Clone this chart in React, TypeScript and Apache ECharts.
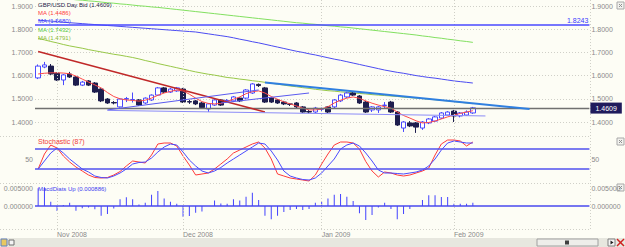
import React, { useEffect, useRef } from "react";
import * as echarts from "echarts";

// ---------- data ----------
const barCount = 88; // 70 trading days + empty future slots
const cats = Array.from({ length: barCount }, (_, i) => "b" + i);
const monthIdx = [3, 23, 45, 66];
const monthLabels = ["Nov 2008", "Dec 2008", "Jan 2009", "Feb 2009"];

// [open, close, low, high]
const ohlc = [
  [1.590, 1.641, 1.585, 1.648], [1.637, 1.646, 1.632, 1.659], [1.641, 1.607, 1.603, 1.650], [1.611, 1.581, 1.577, 1.614],
  [1.581, 1.603, 1.559, 1.607], [1.607, 1.594, 1.590, 1.616], [1.594, 1.559, 1.555, 1.598], [1.559, 1.572, 1.555, 1.577],
  [1.577, 1.559, 1.555, 1.581], [1.568, 1.529, 1.525, 1.572], [1.542, 1.491, 1.486, 1.545], [1.499, 1.482, 1.478, 1.503],
  [1.484, 1.482, 1.476, 1.490], [1.465, 1.499, 1.462, 1.503], [1.499, 1.501, 1.486, 1.508], [1.496, 1.497, 1.484, 1.527],
  [1.495, 1.473, 1.469, 1.499], [1.482, 1.503, 1.478, 1.506], [1.495, 1.516, 1.491, 1.519], [1.516, 1.547, 1.512, 1.551],
  [1.547, 1.529, 1.525, 1.551], [1.529, 1.542, 1.525, 1.547], [1.534, 1.547, 1.530, 1.551], [1.542, 1.486, 1.482, 1.547],
  [1.488, 1.486, 1.478, 1.495], [1.491, 1.478, 1.473, 1.495], [1.482, 1.462, 1.458, 1.486], [1.456, 1.478, 1.443, 1.482],
  [1.473, 1.495, 1.469, 1.499], [1.495, 1.473, 1.469, 1.499], [1.491, 1.493, 1.486, 1.499], [1.491, 1.508, 1.486, 1.512],
  [1.503, 1.491, 1.486, 1.506], [1.503, 1.538, 1.499, 1.542], [1.525, 1.564, 1.521, 1.568], [1.562, 1.557, 1.551, 1.566],
  [1.547, 1.486, 1.482, 1.551], [1.503, 1.486, 1.482, 1.506], [1.495, 1.482, 1.478, 1.499], [1.486, 1.478, 1.473, 1.491],
  [1.478, 1.476, 1.469, 1.482], [1.482, 1.465, 1.460, 1.486], [1.465, 1.443, 1.439, 1.469], [1.445, 1.443, 1.437, 1.452],
  [1.443, 1.460, 1.439, 1.465], [1.455, 1.457, 1.447, 1.462], [1.465, 1.443, 1.439, 1.469], [1.465, 1.495, 1.460, 1.499],
  [1.491, 1.516, 1.486, 1.521], [1.508, 1.525, 1.503, 1.530], [1.525, 1.516, 1.512, 1.530], [1.512, 1.482, 1.478, 1.516],
  [1.486, 1.443, 1.439, 1.491], [1.452, 1.465, 1.443, 1.469], [1.452, 1.465, 1.439, 1.469], [1.471, 1.473, 1.460, 1.486],
  [1.486, 1.443, 1.439, 1.491], [1.443, 1.387, 1.383, 1.447], [1.374, 1.400, 1.357, 1.404], [1.396, 1.383, 1.378, 1.404],
  [1.396, 1.378, 1.353, 1.400], [1.374, 1.400, 1.366, 1.404], [1.396, 1.413, 1.391, 1.417], [1.404, 1.422, 1.400, 1.426],
  [1.417, 1.439, 1.413, 1.443], [1.430, 1.443, 1.426, 1.447], [1.447, 1.426, 1.400, 1.452], [1.426, 1.439, 1.420, 1.443],
  [1.430, 1.443, 1.426, 1.450], [1.439, 1.4609, 1.435, 1.465],
];

const redMA = [
  1.607, 1.610, 1.612, 1.612, 1.611, 1.608, 1.598, 1.585, 1.572, 1.560,
  1.547, 1.527, 1.510, 1.500, 1.495, 1.493, 1.490, 1.494, 1.503, 1.515,
  1.525, 1.532, 1.538, 1.534, 1.520, 1.503, 1.488, 1.480, 1.478, 1.480,
  1.488, 1.498, 1.508, 1.522, 1.531, 1.534, 1.525, 1.510, 1.498, 1.487,
  1.478, 1.469, 1.460, 1.452, 1.452, 1.456, 1.466, 1.482, 1.494, 1.503,
  1.508, 1.502, 1.491, 1.481, 1.473, 1.466, 1.460, 1.443, 1.428, 1.417,
  1.405, 1.396, 1.398, 1.404, 1.413, 1.422, 1.430, 1.437, 1.443, 1.4486,
];
const blueMA = [
  1.839, 1.837, 1.835, 1.833, 1.830, 1.828, 1.826, 1.824, 1.822, 1.820,
  1.818, 1.816, 1.814, 1.812, 1.810, 1.808, 1.806, 1.804, 1.802, 1.800,
  1.798, 1.796, 1.794, 1.792, 1.790, 1.788, 1.784, 1.780, 1.776, 1.772,
  1.768, 1.763, 1.757, 1.752, 1.746, 1.741, 1.735, 1.729, 1.723, 1.717,
  1.711, 1.705, 1.700, 1.694, 1.689, 1.683, 1.677, 1.671, 1.666, 1.660,
  1.654, 1.648, 1.642, 1.636, 1.630, 1.624, 1.619, 1.614, 1.610, 1.605,
  1.600, 1.596, 1.592, 1.589, 1.585, 1.581, 1.577, 1.574, 1.571, 1.568,
];
const greenMA = [
  1.943, 1.940, 1.938, 1.935, 1.933, 1.930, 1.927, 1.925, 1.922, 1.920,
  1.917, 1.914, 1.912, 1.909, 1.907, 1.904, 1.901, 1.899, 1.896, 1.894,
  1.891, 1.888, 1.885, 1.882, 1.879, 1.876, 1.873, 1.870, 1.867, 1.864,
  1.861, 1.858, 1.855, 1.852, 1.849, 1.846, 1.843, 1.840, 1.837, 1.834,
  1.831, 1.828, 1.826, 1.823, 1.821, 1.818, 1.815, 1.813, 1.810, 1.808,
  1.805, 1.802, 1.799, 1.796, 1.793, 1.790, 1.787, 1.784, 1.781, 1.778,
  1.775, 1.771, 1.768, 1.764, 1.761, 1.757, 1.754, 1.750, 1.747, 1.7432,
];
const oliveMA = [
  1.760, 1.754, 1.747, 1.741, 1.734, 1.728, 1.723, 1.718, 1.712, 1.707,
  1.702, 1.697, 1.692, 1.688, 1.683, 1.678, 1.672, 1.665, 1.659, 1.652,
  1.646, 1.640, 1.634, 1.628, 1.622, 1.616, 1.611, 1.606, 1.602, 1.597,
  1.592, 1.589, 1.585, 1.582, 1.578, 1.575, 1.571, 1.567, 1.563, 1.559,
  1.555, 1.552, 1.548, 1.545, 1.541, 1.538, 1.535, 1.533, 1.530, 1.528,
  1.525, 1.523, 1.521, 1.518, 1.516, 1.514, 1.512, 1.510, 1.507, 1.505,
  1.503, 1.501, 1.498, 1.496, 1.493, 1.491, 1.488, 1.485, 1.482, 1.4791,
];

const refLevel = 1.8243;
const lastPrice = 1.4609;

// trend lines: [[startBar, startPrice], [endBar, endPrice]]
const redTrend = [[0, 1.704], [36, 1.443]];
const blueTrend = [[36, 1.570], [78, 1.456]];
const thinTrends = [
  [[11, 1.452], [35, 1.538]],
  [[29, 1.482], [43, 1.525]],
];
const floorTrend = [[11, 1.450], [71, 1.426]];

const stochK = [
  30, 60, 78, 72, 56, 44, 34, 26, 18, 13,
  12, 13, 18, 25, 36, 46, 44, 42, 58, 80,
  82, 82, 76, 56, 38, 18, 20, 22, 30, 40,
  50, 62, 68, 74, 80, 84, 72, 50, 20, 16,
  12, 10, 8, 6, 18, 40, 60, 78, 84, 84,
  82, 70, 45, 26, 14, 24, 22, 18, 16, 18,
  22, 26, 32, 58, 80, 88, 88, 86, 76, 84,
];
const stochD = [
  30, 46, 62, 72, 62, 50, 40, 30, 24, 16,
  13, 12, 16, 22, 30, 40, 43, 44, 52, 64,
  74, 80, 78, 64, 48, 36, 26, 22, 26, 33,
  42, 50, 58, 66, 74, 82, 80, 66, 48, 26,
  16, 12, 9, 8, 12, 22, 36, 50, 70, 78,
  82, 76, 62, 46, 28, 22, 22, 21, 20, 22,
  24, 28, 36, 50, 68, 82, 86, 84, 82, 82,
];
const stochLevels = [70, 30];

const macd = [
  0.0049, 0.0052, 0.0012, -0.0014, 0.0003, 0.0009, -0.0013, -0.0006, -0.0004, -0.0009,
  -0.0027, -0.0022, -0.0007, 0.0019, 0.0024, 0.0019, 0.0004, 0.0009, 0.0031, 0.0042,
  0.0021, 0.0012, 0.0006, -0.0030, -0.0028, -0.0019, -0.0015, 0, 0.0015, 0.0007,
  0.0006, 0.0019, 0.0015, 0.0026, 0.0037, 0.0017, -0.0027, -0.0037, -0.0027, -0.0017,
  -0.0011, -0.0008, -0.0011, -0.0008, 0.0009, 0.0012, 0.0021, 0.0031, 0.0033, 0.0026,
  0.0014, -0.0020, -0.0039, -0.0025, -0.0004, 0.0009, -0.0008, -0.0037, -0.0022, -0.0008,
  0, 0.0017, 0.0030, 0.0030, 0.0025, 0.0025, 0.0006, 0.0006, 0.0006, 0.000886,
];

// ---------- styling ----------
const FONT = "Liberation Sans, Arial, sans-serif";
const GRAY = "#8a8a8a";
const BG = "#fdfdf5";
const GRID_L = 35;
const GRID_R = 35.6;

function seg(pair: number[][], color: string, width: number) {
  return [
    { coord: [cats[pair[0][0]], pair[0][1]], lineStyle: { color, width, type: "solid" } },
    { coord: [cats[pair[1][0]], pair[1][1]] },
  ];
}

function txt(x: number, y: number, text: string, fill: string, size = 6) {
  return {
    type: "text",
    x,
    y,
    silent: true,
    z: 50,
    style: { text, fill, fontSize: size, fontFamily: FONT, verticalAlign: "middle" },
  };
}

function dottedH(y: number) {
  return {
    type: "line",
    silent: true,
    z: 1,
    shape: { x1: 0, y1: y, x2: 590, y2: y },
    style: { stroke: "#d0d0c8", lineWidth: 1, lineDash: [1, 2] },
  };
}

function closeIcon(y: number) {
  return {
    type: "group",
    silent: true,
    children: [
      { type: "rect", shape: { x: 617, y, width: 7, height: 7 }, style: { fill: "#f2f2ee", stroke: "#a8a8a8", lineWidth: 1 } },
      { type: "line", shape: { x1: 619, y1: y + 2, x2: 622, y2: y + 5 }, style: { stroke: "#909090", lineWidth: 1 } },
      { type: "line", shape: { x1: 622, y1: y + 2, x2: 619, y2: y + 5 }, style: { stroke: "#909090", lineWidth: 1 } },
    ],
  };
}

function buildOption() {
  const valueAxisBase = {
    type: "value",
    axisLine: { show: false },
    axisTick: { show: false },
    splitLine: { show: false },
  };
  const labelBase = { color: GRAY, fontSize: 7, fontFamily: FONT, margin: 2 };
  const priceFmt = (v: number) => v.toFixed(4);
  const macdFmt = (v: number) =>
    Math.abs(v) < 1e-9 ? "0.000000" : Math.abs(v - 0.005) < 1e-7 ? "0.005000" : "";

  return {
    animation: false,
    backgroundColor: BG,
    grid: [
      { left: GRID_L, right: GRID_R, top: 6, height: 116 },
      { left: GRID_L, right: GRID_R, top: 134, height: 50 },
      { left: GRID_L, right: GRID_R, top: 170, height: 72 },
      { left: GRID_L, right: GRID_R, top: 0, height: 229 },
    ],
    xAxis: [0, 1, 2, 3].map((g) => ({
      type: "category",
      gridIndex: g,
      data: cats,
      show: g === 3,
      axisLine: { show: false },
      axisTick: { show: false },
      splitLine: { show: false },
      axisLabel:
        g === 3
          ? {
              interval: (i: number) => monthIdx.includes(i),
              formatter: (_v: string, i: number) => monthLabels[monthIdx.indexOf(i)] || "",
              color: GRAY,
              fontSize: 7,
              fontFamily: FONT,
              align: "left",
              margin: 2,
            }
          : { show: false },
    })),
    yAxis: [
      {
        ...valueAxisBase, gridIndex: 0, position: "left", min: 1.4, max: 1.9, interval: 0.1,
        axisLabel: { ...labelBase, formatter: priceFmt },
        splitLine: { show: true, lineStyle: { type: [1, 2], color: "#d0d0c8", width: 1 } },
      },
      {
        ...valueAxisBase, gridIndex: 0, position: "right", min: 1.4, max: 1.9, interval: 0.1,
        axisLabel: { ...labelBase, formatter: priceFmt },
      },
      {
        ...valueAxisBase, gridIndex: 1, position: "left", min: 0, max: 100, interval: 50,
        axisLabel: { ...labelBase, showMinLabel: false, showMaxLabel: false },
      },
      {
        ...valueAxisBase, gridIndex: 1, position: "right", min: 0, max: 100, interval: 50,
        axisLabel: { ...labelBase, showMinLabel: false, showMaxLabel: false },
      },
      {
        ...valueAxisBase, gridIndex: 2, position: "left", min: -0.01, max: 0.01, interval: 0.005,
        axisLabel: { ...labelBase, formatter: macdFmt },
      },
      {
        ...valueAxisBase, gridIndex: 2, position: "right", min: -0.01, max: 0.01, interval: 0.005,
        axisLabel: { ...labelBase, formatter: macdFmt },
      },
      { ...valueAxisBase, gridIndex: 3, min: 0, max: 1, show: false },
    ],
    series: [
      {
        type: "line",
        xAxisIndex: 3,
        yAxisIndex: 6,
        data: [],
        z: 1,
        silent: true,
        markLine: {
          silent: true,
          symbol: ["none", "none"],
          label: { show: false },
          lineStyle: { type: [1, 2], color: "#cfcfc6", width: 1 },
          data: monthIdx.map((i) => ({ xAxis: cats[i] })),
        },
      },
      {
        type: "candlestick",
        xAxisIndex: 0,
        yAxisIndex: 0,
        data: ohlc,
        barWidth: 5,
        clip: false,
        z: 3,
        itemStyle: {
          color: "#ffffff",
          color0: "#1e1e4e",
          borderColor: "#4a4aff",
          borderColor0: "#1e1e4e",
          borderWidth: 1,
        },
        markLine: {
          silent: true,
          symbol: ["none", "none"],
          label: { show: false },
          data: [
            {
              yAxis: refLevel,
              lineStyle: { color: "#4848ff", width: 1.5, type: "solid" },
              label: {
                show: true, position: "insideEndTop", formatter: refLevel.toFixed(4),
                color: "#3a3aff", fontSize: 7, fontFamily: FONT, distance: 1,
              },
            },
            {
              yAxis: lastPrice,
              lineStyle: { color: "#707070", width: 1.3, type: "solid" },
              label: {
                show: true, position: "end", formatter: lastPrice.toFixed(4),
                color: "#ffffff", backgroundColor: "#1f1b5c", padding: [2, 5, 2, 5],
                fontSize: 7, fontFamily: FONT, distance: 1,
              },
            },
            seg(redTrend, "#c02828", 1.5),
            seg(blueTrend, "#2f7fe0", 2),
            ...thinTrends.map((t) => seg(t, "#5a5af0", 1)),
            seg(floorTrend, "#8c8cf8", 1),
          ],
        },
      },
      { type: "line", xAxisIndex: 0, yAxisIndex: 0, data: greenMA, symbol: "none", clip: false, z: 2, lineStyle: { color: "#82e060", width: 1 } },
      { type: "line", xAxisIndex: 0, yAxisIndex: 0, data: oliveMA, symbol: "none", clip: false, z: 2, lineStyle: { color: "#98c848", width: 1 } },
      { type: "line", xAxisIndex: 0, yAxisIndex: 0, data: blueMA, symbol: "none", clip: false, z: 2, lineStyle: { color: "#4b4bf2", width: 1 } },
      { type: "line", xAxisIndex: 0, yAxisIndex: 0, data: redMA, symbol: "none", clip: false, z: 4, lineStyle: { color: "#ff4a4a", width: 1 } },
      {
        type: "line", xAxisIndex: 1, yAxisIndex: 2, data: stochK, symbol: "none", z: 4,
        lineStyle: { color: "#ff3a3a", width: 1 },
        markLine: {
          silent: true,
          symbol: ["none", "none"],
          label: { show: false },
          lineStyle: { color: "#5050ee", width: 1.5, type: "solid" },
          data: stochLevels.map((v) => ({ yAxis: v })),
        },
      },
      { type: "line", xAxisIndex: 1, yAxisIndex: 2, data: stochD, symbol: "none", z: 4, lineStyle: { color: "#4a4aff", width: 1 } },
      {
        type: "bar", xAxisIndex: 2, yAxisIndex: 4, data: macd, barWidth: 1, z: 4,
        itemStyle: { color: "#4242ff" },
        markLine: {
          silent: true,
          symbol: ["none", "none"],
          label: { show: false },
          lineStyle: { color: "#4848ee", width: 1.5, type: "solid" },
          data: [{ yAxis: 0 }],
        },
      },
    ],
    graphic: [
      dottedH(136.5),
      dottedH(183.5),
      dottedH(229.5),
      {
        type: "line", silent: true, z: 1,
        shape: { x1: 590.5, y1: 0, x2: 590.5, y2: 229 },
        style: { stroke: "#d0d0c8", lineWidth: 1, lineDash: [1, 2] },
      },
      txt(38, 4.5, "GBP/USD Day Bid (1.4609)", "#25254a"),
      txt(38, 13, "MA (1.4486)", "#ff4040"),
      txt(38, 21, "MA (1.5680)", "#4040ff"),
      txt(38, 29.5, "MA (1.7432)", "#58c840"),
      txt(38, 37.5, "MA (1.4791)", "#8cbc3c"),
      txt(38, 141.5, "Stochastic (87)", "#f03c3c", 7),
      txt(38, 188.5, "MacdDiats Up (0.000886)", "#4040f0"),
      closeIcon(2),
      closeIcon(138),
      closeIcon(184),
      // bottom scroll strip
      { type: "rect", silent: true, shape: { x: 0, y: 238, width: 625, height: 9 }, style: { fill: "#e7e7df" } },
      { type: "rect", silent: true, shape: { x: 1, y: 239, width: 6, height: 7 }, style: { fill: "#e8c860", stroke: "#6080c0", lineWidth: 1 } },
      { type: "rect", silent: true, shape: { x: 9, y: 240, width: 5, height: 5 }, style: { fill: "#f4f4f4", stroke: "#707070", lineWidth: 1 } },
      { type: "rect", silent: true, shape: { x: 537, y: 239, width: 61, height: 7 }, style: { fill: "#eeeeea", stroke: "#a0a0a0", lineWidth: 1 } },
      { type: "rect", silent: true, shape: { x: 565, y: 240.5, width: 4, height: 4 }, style: { fill: "#404040" } },
      { type: "rect", silent: true, shape: { x: 608, y: 239, width: 7, height: 7 }, style: { fill: "#f4f4f4", stroke: "#808080", lineWidth: 1 } },
      { type: "polygon", silent: true, shape: { points: [[610.5, 240.5], [613.5, 242.5], [610.5, 244.5]] }, style: { fill: "#202020" } },
      { type: "line", silent: true, shape: { x1: 617, y1: 239, x2: 624, y2: 246 }, style: { stroke: "#d02020", lineWidth: 1.5 } },
      { type: "line", silent: true, shape: { x1: 624, y1: 239, x2: 617, y2: 246 }, style: { stroke: "#d02020", lineWidth: 1.5 } },
    ],
  };
}

export default function App() {
  const ref = useRef<HTMLDivElement>(null);
  useEffect(() => {
    if (!ref.current) return;
    const chart = echarts.init(ref.current, null, { renderer: "svg" });
    chart.setOption(buildOption() as any);
    return () => chart.dispose();
  }, []);
  return (
    <div
      ref={ref}
      style={{ position: "fixed", left: 0, top: 0, width: 625, height: 247, background: BG }}
    />
  );
}
